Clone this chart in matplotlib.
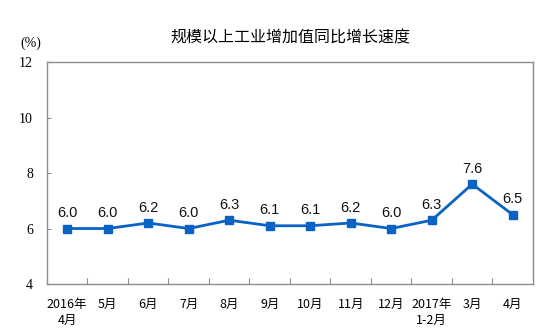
import matplotlib
matplotlib.use("Agg")
import matplotlib.pyplot as plt

months = ["2016年\n4月", "5月", "6月", "7月", "8月", "9月", "10月", "11月",
          "12月", "2017年\n1-2月", "3月", "4月"]
growth = [6.0, 6.0, 6.2, 6.0, 6.3, 6.1, 6.1, 6.2, 6.0, 6.3, 7.6, 6.5]
yticks = [4, 6, 8, 10, 12]

cjk = ["Noto Sans CJK SC", "DejaVu Sans"]
serif = ["Liberation Serif", "DejaVu Serif"]
line_color = "#0A62C4"
spine_color = "#8C8C8C"

fig = plt.figure(figsize=(5.4, 3.34), dpi=100)
ax = fig.add_axes([0.087, 0.1497, 0.9, 0.6643])

x = list(range(len(months)))
ax.plot(x, growth, color=line_color, lw=2, marker="s", ms=5.5,
        markerfacecolor=line_color, markeredgecolor=line_color)

for xi, v in zip(x, growth):
    ax.annotate(f"{v:.1f}", (xi, v), xytext=(0, 6), textcoords="offset points",
                ha="center", va="bottom", fontsize=10.5,
                family=["Liberation Sans", "DejaVu Sans"], color="#111111")

ax.set_xlim(-0.5, len(months) - 0.5)
ax.set_ylim(4, 12)
ax.set_yticks(yticks)
ax.set_yticklabels([str(t) for t in yticks], family=serif, fontsize=10)

# category boundaries carry the tick marks, labels sit at the category centres
ax.set_xticks([i + 0.5 for i in range(len(months) - 1)], minor=False)
ax.set_xticklabels([])
ax.set_xticks(x, minor=True)
ax.set_xticklabels(months, minor=True, family=cjk, fontsize=9, linespacing=1.3,
                   va="top")
ax.tick_params(axis="x", which="major", direction="in", length=4, color=spine_color)
ax.tick_params(axis="x", which="minor", length=0, pad=10)
ax.tick_params(axis="y", direction="in", length=3, color=spine_color, pad=10)

for s in ax.spines.values():
    s.set_color(spine_color)
    s.set_linewidth(1)

fig.text(0.537, 0.885, "规模以上工业增加值同比增长速度", ha="center", va="center",
         fontsize=11.5, family=cjk)
fig.text(0.057, 0.87, "(%)", ha="center", va="center", fontsize=10, family=serif)

fig.savefig("out.png", dpi=100)
